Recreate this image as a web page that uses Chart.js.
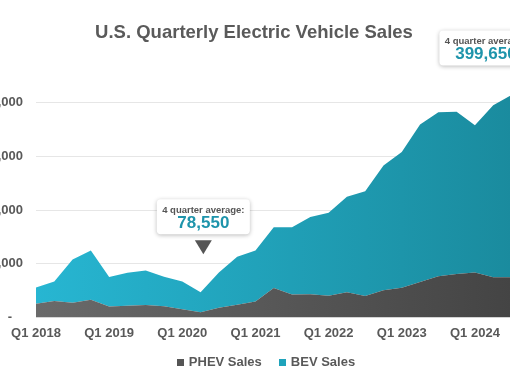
<!DOCTYPE html>
<html>
<head>
<meta charset="utf-8">
<title>U.S. Quarterly Electric Vehicle Sales</title>
<script src="https://cdn.jsdelivr.net/npm/chart.js@4.4.1/dist/chart.umd.min.js"></script>
<style>
  html, body { margin: 0; padding: 0; background: #fff; }
  body { width: 510px; height: 382px; overflow: hidden; position: relative; }
  #title {
    position: absolute; left: 0; top: 21px; width: 508px;
    text-align: center; color: #5a5a5a;
    font: bold 18.5px 'Liberation Sans', Arial, sans-serif;
  }
  #wrap { position: absolute; left: -40px; top: 0; width: 560px; height: 382px; }
  #legend {
    position: absolute; left: 0; top: 354px; width: 532px;
    display: flex; justify-content: center; align-items: center;
    font: bold 13px 'Liberation Sans', Arial, sans-serif; color: #595959;
    line-height: 16px;
  }
  #legend .item { display: flex; align-items: center; }
  #legend .item + .item { margin-left: 17px; }
  #legend .box { width: 7px; height: 7px; margin-right: 5px; }
</style>
</head>
<body>
<div id="wrap"><canvas id="evChart"></canvas></div>
<div id="title">U.S. Quarterly Electric Vehicle Sales</div>
<div id="legend"></div>
<script>
/* ============ DATA ============ */
const quarters = [
  'Q1 2018', 'Q2 2018', 'Q3 2018', 'Q4 2018',
  'Q1 2019', 'Q2 2019', 'Q3 2019', 'Q4 2019',
  'Q1 2020', 'Q2 2020', 'Q3 2020', 'Q4 2020',
  'Q1 2021', 'Q2 2021', 'Q3 2021', 'Q4 2021',
  'Q1 2022', 'Q2 2022', 'Q3 2022', 'Q4 2022',
  'Q1 2023', 'Q2 2023', 'Q3 2023', 'Q4 2023',
  'Q1 2024', 'Q2 2024', 'Q3 2024',
];

const phevSales = [
  25600, 31000, 27500, 33000,
  20500, 22000, 23500, 21000,
  15500, 10000, 18500, 24000,
  30000, 55000, 43000, 43500,
  40500, 47000, 40000, 51000,
  55500, 66000, 77000, 81000,
  84000, 75000, 75000,
];

const bevSales = [
  30400, 36000, 80500, 92000,
  55000, 61500, 64000, 55000,
  51500, 37000, 65500, 89000,
  95000, 113000, 125000, 143500,
  154500, 178000, 195000, 232000,
  252500, 293000, 305000, 302000,
  274000, 320000, 339000,
];

const yTicks = [0, 100000, 200000, 300000, 400000];

// 4 quarter average callouts
const calloutText = ['78,550', '399,650'];
const calloutAt = [9.15, 24.6];        // position along the quarter axis
const calloutTop = [220000, 534000];   // top of the box, in sales units
const calloutArrow = [true, false];

/* ============ STYLE ============ */
const FONT = "'Liberation Sans', Arial, sans-serif";
const colors = {
  bevLeft: '#27b6d2',
  bevRight: '#1a8b9e',
  phevLeft: '#6a6a6a',
  phevRight: '#444444',
  text: '#595959',
  grid: '#e6e6e6',
  teal: '#1e94ab',
};

Chart.defaults.font.family = FONT;
Chart.defaults.font.weight = 'bold';
Chart.defaults.font.size = 13;
Chart.defaults.color = colors.text;

function sideGradient(chart, left, right) {
  const area = chart.chartArea;
  if (!area) return left;
  const g = chart.ctx.createLinearGradient(area.left, 0, area.right, 0);
  g.addColorStop(0, left);
  g.addColorStop(1, right);
  return g;
}

/* ============ CALLOUT PLUGIN ============ */
const calloutPlugin = {
  id: 'callouts',
  afterDatasetsDraw(chart) {
    const { ctx } = chart;
    const xs = chart.scales.x;
    const ys = chart.scales.y;
    const w = 93, h = 35;

    calloutText.forEach((txt, k) => {
      const cx = xs.getPixelForValue(calloutAt[k]);
      const top = ys.getPixelForValue(calloutTop[k]);

      ctx.save();
      ctx.shadowColor = 'rgba(0,0,0,0.28)';
      ctx.shadowBlur = 4;
      ctx.shadowOffsetY = 1;
      ctx.fillStyle = '#ffffff';
      ctx.beginPath();
      ctx.roundRect(cx - w / 2, top, w, h, 4);
      ctx.fill();
      ctx.restore();

      ctx.save();
      ctx.textAlign = 'center';
      ctx.textBaseline = 'middle';
      ctx.fillStyle = '#555555';
      ctx.font = `bold 9.5px ${FONT}`;
      ctx.fillText('4 quarter average:', cx, top + 11);
      ctx.fillStyle = colors.teal;
      ctx.font = `bold 17px ${FONT}`;
      ctx.fillText(txt, cx, top + 24);

      if (calloutArrow[k]) {
        const ty = top + h + 6;
        ctx.fillStyle = '#555555';
        ctx.beginPath();
        ctx.moveTo(cx - 8.5, ty);
        ctx.lineTo(cx + 8.5, ty);
        ctx.lineTo(cx, ty + 14);
        ctx.closePath();
        ctx.fill();
      }
      ctx.restore();
    });
  },
};

/* ============ CHART ============ */
const ctx = document.getElementById('evChart');

const chart = new Chart(ctx, {
  type: 'line',
  data: {
    labels: quarters,
    datasets: [
      {
        label: 'PHEV Sales',
        data: phevSales,
        fill: 'origin',
        backgroundColor: (c) => sideGradient(c.chart, colors.phevLeft, colors.phevRight),
        borderWidth: 0,
        pointRadius: 0,
        tension: 0,
      },
      {
        label: 'BEV Sales',
        data: bevSales,
        fill: '-1',
        backgroundColor: (c) => sideGradient(c.chart, colors.bevLeft, colors.bevRight),
        borderWidth: 0,
        pointRadius: 0,
        tension: 0,
      },
    ],
  },
  options: {
    responsive: true,
    maintainAspectRatio: false,
    animation: false,
    layout: {
      autoPadding: false,
      padding: { left: 0, right: 7.3, top: 75.7, bottom: 31.8 },
    },
    plugins: {
      tooltip: { enabled: false },
      legend: { display: false },
    },
    scales: {
      x: {
        grid: { display: false, drawTicks: false },
        border: { display: false },
        ticks: {
          autoSkip: false,
          maxRotation: 0,
          padding: 8.5,
          color: colors.text,
          callback: (v, i) => (i % 4 === 0 ? quarters[i] : ''),
        },
      },
      y: {
        stacked: true,
        min: 0,
        max: 450000,
        border: { display: false },
        grid: { color: colors.grid, drawTicks: false, lineWidth: 1 },
        afterFit: (scale) => { scale.width = 76; },
        afterBuildTicks: (scale) => {
          scale.ticks = yTicks.map((v) => ({ value: v }));
        },
        ticks: {
          padding: 13,
          color: colors.text,
          callback: (v) => (v === 0 ? '-\u00a0\u00a0\u00a0' : v.toLocaleString('en-US')),
        },
      },
    },
  },
  plugins: [calloutPlugin],
});

/* ============ LEGEND ============ */
const legendSwatch = ['#555555', '#1fa3bb'];
const legendEl = document.getElementById('legend');
chart.data.datasets.forEach((ds, i) => {
  const item = document.createElement('span');
  item.className = 'item';
  const box = document.createElement('span');
  box.className = 'box';
  box.style.background = legendSwatch[i];
  item.appendChild(box);
  item.appendChild(document.createTextNode(ds.label));
  legendEl.appendChild(item);
});
</script>
</body>
</html>
